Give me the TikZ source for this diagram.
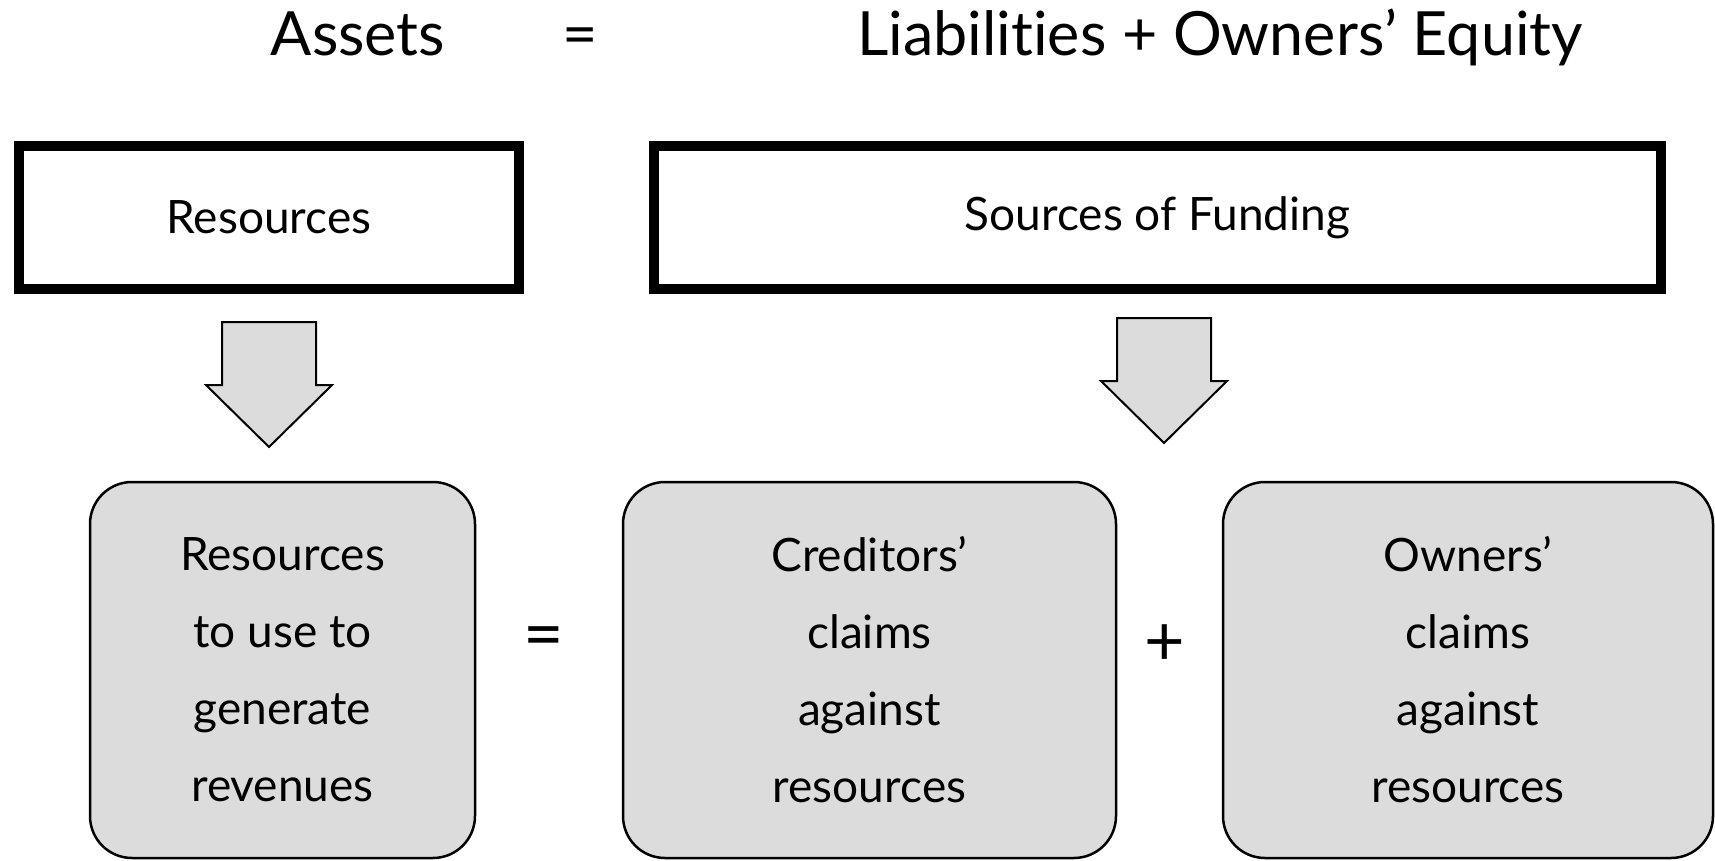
\documentclass[tikz,border=0pt]{standalone}
\usepackage{fontspec}
\setmainfont{Lato}[Ligatures=CommonOff]
\usetikzlibrary{positioning}
\definecolor{boxgray}{HTML}{DCDCDC}
\tikzset{headbox/.style={draw, line width=10pt, minimum width=500pt, minimum height=143pt, inner sep=0pt, font=\fontsize{46}{54}\selectfont},
claimbox/.style={draw, line width=2.5pt, fill=boxgray, rounded corners=42pt, minimum height=376pt, align=center, font=\fontsize{46}{77}\selectfont},
blockarrow/.style={draw, line width=2pt, fill=boxgray, line join=miter},
eqtitle/.style={anchor=base, font=\fontsize{61}{70}\selectfont},
sign/.style={font=\fontsize{70}{80}\selectfont}}

\begin{document}
\begin{tikzpicture}[x=1pt,y=-1pt]
\useasboundingbox (0,0) rectangle (1715,861);
\node (assets) [eqtitle] at (358,56) {Assets};
\node (equals) [eqtitle] at (580,56) {=};
\node (liab) [eqtitle] at (1220,56) {Liabilities + Owners’ Equity};
\node (res) [headbox] at (269,217.5) {Resources};
\node (fund) [headbox, minimum width=1007pt] at (1157.5,217.5) {Sources of Funding};
\coordinate (a1) at (269,322);
\coordinate (a2) at (1164,318);
\draw [blockarrow] (a1) ++(-47,0) -- ++(94,0) -- ++(0,63) -- ++(16,0) -- ++(-63,62) -- ++(-63,-62) -- ++(16,0) -- cycle;
\draw [blockarrow] (a2) ++(-47,0) -- ++(94,0) -- ++(0,63) -- ++(16,0) -- ++(-63,62) -- ++(-63,-62) -- ++(16,0) -- cycle;
\node (assetbox) [claimbox, minimum width=385pt] at (282.5,670) {Resources\\to use to\\generate\\revenues};
\node (credbox) [claimbox, minimum width=493pt] at (869.5,670) {Creditors’\\claims\\against\\resources};
\node (ownbox) [claimbox, minimum width=490pt] at (1468,670) {Owners’\\claims\\against\\resources};
\node (eqlow) [sign] at (544,643) {=};
\node (plus) [sign] at (1165,645) {+};
\end{tikzpicture}
\end{document}
